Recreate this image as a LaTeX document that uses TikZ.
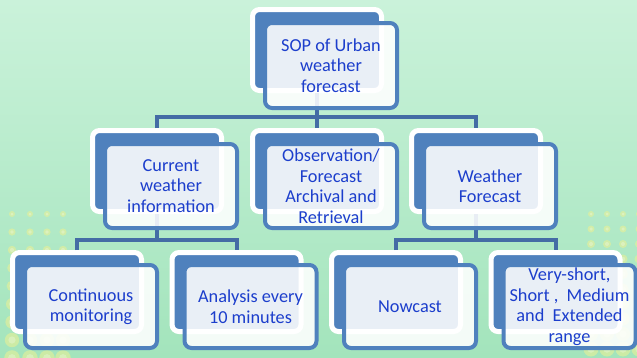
\documentclass[tikz,border=0pt]{standalone}
\usepackage{fontspec}
\setmainfont{Carlito}
\usetikzlibrary{calc}
\definecolor{bgtop}{RGB}{202,242,218}
\definecolor{bgbot}{RGB}{163,228,188}
\definecolor{boxblue}{RGB}{79,129,189}
\definecolor{connblue}{RGB}{68,108,165}
\definecolor{txtblue}{RGB}{28,62,204}
\definecolor{dotyel}{RGB}{232,240,150}
\tikzset{
  backbox/.style={draw=white, line width=5pt, fill=boxblue, rounded corners=7pt,
    minimum width=129pt, inner sep=0pt},
  frontbox/.style={draw=boxblue, line width=4pt, fill=white, fill opacity=0.88,
    text opacity=1, rounded corners=7pt, minimum width=132pt, inner sep=0pt,
    text=txtblue, font=\fontsize{18.3}{20.5}\selectfont, align=center},
  conn/.style={draw=connblue, line width=4pt},
  bokeh/.style={fill=dotyel, opacity=0.6},
  bokehin/.style={fill=white, opacity=0.25},
}
\begin{document}
\begin{tikzpicture}[x=1pt,y=-1pt]
\useasboundingbox (0,0) rectangle (637,357);
\shade[top color=bgtop, bottom color=bgbot] (0,0) rectangle (637,357);
% bokeh dots
\foreach \c in {12,30,47,63}{
  \foreach \r in {0,...,8}{
    \fill[bokeh] ({\c},{214+\r*18}) circle ({(3+\r*0.6)*1pt});
    \fill[bokehin] ({\c},{214+\r*18}) circle ({(1.5+\r*0.3)*1pt});
  }
}
\foreach \c in {591,607,623,639}{
  \foreach \r in {0,...,9}{
    \fill[bokeh] ({\c},{214+\r*15}) circle ({(3+\r*0.5)*1pt});
    \fill[bokehin] ({\c},{214+\r*15}) circle ({(1.5+\r*0.25)*1pt});
  }
}
% back boxes
\node[backbox, minimum height=81pt] (topb) at (317,50) {};
\node[backbox, minimum height=81pt] (cwb) at (157,171) {};
\node[backbox, minimum height=81pt] (obsb) at (317,171) {};
\node[backbox, minimum height=81pt] (wfb) at (476,171) {};
\node[backbox, minimum height=79pt] (cmb) at (77,292) {};
\node[backbox, minimum height=79pt] (anb) at (236.5,292) {};
\node[backbox, minimum height=79pt] (ncb) at (396,292) {};
\node[backbox, minimum height=79pt] (vsb) at (555.5,292) {};
% connectors
\draw[conn] (topb.south) -- (obsb.north);
\draw[conn] (cwb.north) -- ++(0,-11) coordinate (hm) -| (wfb.north);
\draw[conn] (cmb.north) -- ++(0,-10) coordinate (hl) -| (anb.north);
\draw[conn] (cwb.south) -- (cwb.south |- hl);
\draw[conn] (ncb.north) -- ++(0,-10) coordinate (hr) -| (vsb.north);
\draw[conn] (wfb.south) -- (wfb.south |- hr);
% front boxes
\node[frontbox, minimum height=85pt] (topf) at (331,65.5) {SOP of Urban\\weather\\forecast};
\node[frontbox, minimum height=84pt] (cwf) at (171,186) {Current\\weather\\information};
\node[frontbox, minimum height=84pt] (obsf) at (331,186) {Observation/\\Forecast\\Archival and\\Retrieval};
\node[frontbox, minimum height=84pt] (wff) at (490,186) {Weather\\Forecast};
\node[frontbox, minimum height=83pt] (cmf) at (91,306.5) {Continuous\\monitoring};
\node[frontbox, minimum height=83pt] (anf) at (250.5,306.5) {Analysis every\\10 minutes};
\node[frontbox, minimum height=83pt] (ncf) at (410,306.5) {Nowcast};
\node[frontbox, minimum height=83pt] (vsf) at (569.5,306.5) {Very-short,\\Short ,\ \ Medium\\and\ \ Extended\\range};
\end{tikzpicture}
\end{document}
